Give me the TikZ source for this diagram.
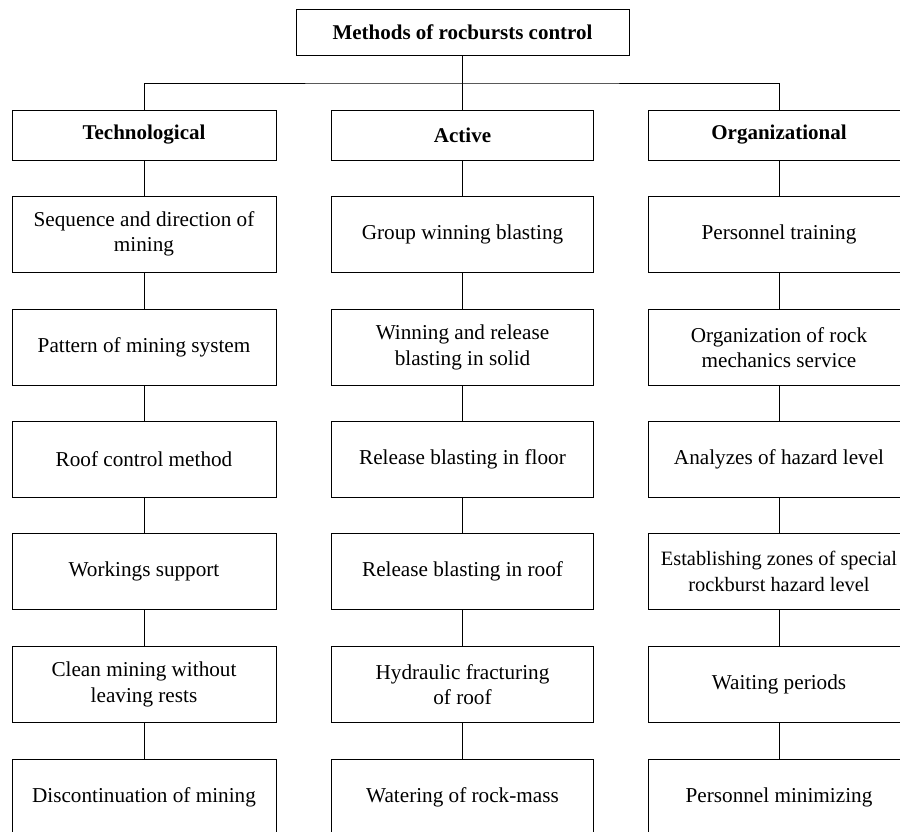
\documentclass[tikz,border=0pt]{standalone}
\usepackage{fontspec}
\setmainfont{Liberation Serif}
\begin{document}
\begin{tikzpicture}[x=1pt,y=-1pt,
  box/.style={draw, line width=1pt, minimum height=76pt, minimum width=264pt, align=center, inner sep=0pt, font=\fontsize{21.2}{25.5}\selectfont},
  head/.style={box, minimum height=50pt, font=\fontsize{21}{25}\selectfont\bfseries},
  conn/.style={line width=1pt}]
\clip (0,0) rectangle (900,831);
\fill[white] (0,0) rectangle (900,831);
% root
\node[head, minimum width=333pt, minimum height=46pt] (root) at (462.5,32) {Methods of rocbursts control};
% heads
\node[head, minimum width=264pt] (tech) at (144,135) {Technological};
\node[head, minimum width=262pt] (act) at (462.5,135) {Active};
\node[head, minimum width=262pt] (org) at (779,135) {Organizational};
\coordinate (bus) at (462.5,83);
\draw[conn] (root.south) -- (bus);
\draw[conn] (tech.north) |- (bus) -| (org.north);
\draw[conn] (bus) -- (act.north);
% technological column
\node[box] (t1) at (144,234) {Sequence and direction of\\mining};
\node[box] (t2) at (144,347.5) {Pattern of mining system};
\node[box] (t3) at (144,459.5) {Roof control method};
\node[box] (t4) at (144,571.5) {Workings support};
\node[box] (t5) at (144,684.5) {Clean mining without\\leaving rests};
\node[box] (t6) at (144,797) {Discontinuation of mining};
% active column
\node[box, minimum width=262pt] (a1) at (462.5,234) {Group winning blasting};
\node[box, minimum width=262pt] (a2) at (462.5,347.5) {Winning and release\\blasting in solid};
\node[box, minimum width=262pt] (a3) at (462.5,459.5) {Release blasting in floor};
\node[box, minimum width=262pt] (a4) at (462.5,571.5) {Release blasting in roof};
\node[box, minimum width=262pt] (a5) at (462.5,684.5) {Hydraulic fracturing\\of roof};
\node[box, minimum width=262pt] (a6) at (462.5,797) {Watering of rock-mass};
% organizational column
\node[box, minimum width=262pt] (o1) at (779,234) {Personnel training};
\node[box, minimum width=262pt] (o2) at (779,347.5) {Organization of rock\\mechanics service};
\node[box, minimum width=262pt] (o3) at (779,459.5) {Analyzes of hazard level};
\node[box, minimum width=262pt, font=\fontsize{20.4}{25.5}\selectfont] (o4) at (779,571.5) {Establishing zones of special\\rockburst hazard level};
\node[box, minimum width=262pt] (o5) at (779,684.5) {Waiting periods};
\node[box, minimum width=262pt] (o6) at (779,797) {Personnel minimizing};
% connectors
\foreach \c/\h in {t/tech,a/act,o/org}{
  \draw[conn] (\h.south) -- (\c1.north);
  \draw[conn] (\c1.south) -- (\c2.north);
  \draw[conn] (\c2.south) -- (\c3.north);
  \draw[conn] (\c3.south) -- (\c4.north);
  \draw[conn] (\c4.south) -- (\c5.north);
  \draw[conn] (\c5.south) -- (\c6.north);
}
\end{tikzpicture}
\end{document}
